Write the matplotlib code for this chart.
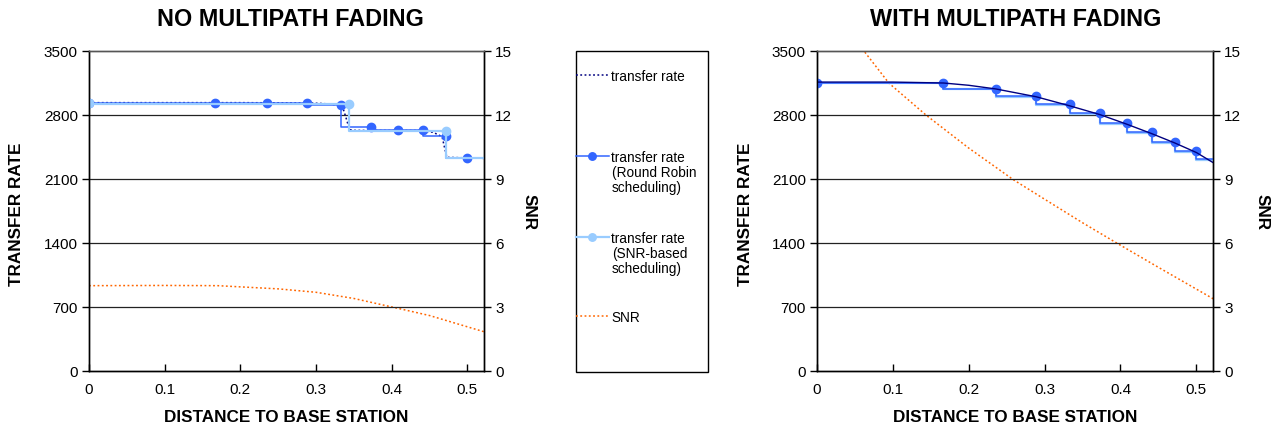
import matplotlib
matplotlib.use('Agg')
import matplotlib.pyplot as plt
from matplotlib.patches import Rectangle

plt.rcParams['font.family'] = ['Liberation Sans', 'DejaVu Sans']

# ---------------- data ----------------
x_ticks = [0, 0.1, 0.2, 0.3, 0.4, 0.5]
x_tick_labels = ['0', '0.1', '0.2', '0.3', '0.4', '0.5']
rate_ticks = [0, 700, 1400, 2100, 2800, 3500]
snr_ticks = [0, 3, 6, 9, 12, 15]

# NO MULTIPATH FADING
nf_tr_x = [0, 0.1, 0.2, 0.29, 0.31, 0.33, 0.3355, 0.34, 0.3443, 0.35, 0.40, 0.44, 0.455,
           0.4666, 0.4697, 0.4730, 0.522]
nf_tr_y = [2935, 2935, 2935, 2932, 2925, 2910, 2880, 2760, 2640, 2632, 2630, 2630, 2610,
           2563, 2450, 2337, 2326]
nf_rr_x = [0, 0.1667, 0.2357, 0.2887, 0.3333, 0.3727, 0.4082, 0.4410, 0.4714, 0.5]
nf_rr_y = [2935, 2935, 2935, 2935, 2910, 2672, 2636, 2636, 2567, 2326]
nf_snrb_x = [0, 0.3436, 0.4714, 0.522]
nf_snrb_y = [2935, 2920, 2621, 2326]
nf_snr_x = [0, 0.1, 0.17, 0.25, 0.30, 0.35, 0.408, 0.45, 0.522]
nf_snr_y = [4.0, 4.01, 4.0, 3.85, 3.69, 3.4, 2.94, 2.6, 1.84]

# WITH MULTIPATH FADING
wf_tr_x = [0, 0.1, 0.1667, 0.2, 0.2357, 0.2887, 0.3333, 0.3727, 0.4082, 0.4410, 0.4714,
           0.5, 0.524]
wf_tr_y = [3160, 3160, 3150, 3125, 3085, 3000, 2900, 2805, 2700, 2597, 2495, 2390, 2270]
wf_rr_x = [0, 0.1667, 0.2357, 0.2887, 0.3333, 0.3727, 0.4082, 0.4410, 0.4714, 0.5, 0.524]
wf_rr_y = [3150, 3150, 3084, 3011, 2920, 2818, 2712, 2610, 2508, 2406, 2320]
wf_snrb_x = [0, 0.1667, 0.2357, 0.2887, 0.3333, 0.3727, 0.4082, 0.4410, 0.4714, 0.5, 0.524]
wf_snrb_y = [3150, 3145, 3080, 2998, 2905, 2812, 2700, 2602, 2497, 2398, 2305]
wf_snr_x = [0.05, 0.0632, 0.0949, 0.1436, 0.2, 0.2587, 0.2938, 0.35, 0.395, 0.45, 0.524]
wf_snr_y = [15.6, 14.94, 13.49, 12.0, 10.45, 8.97, 8.19, 6.95, 6.0, 4.86, 3.35]

# ---------------- styles ----------------
C_TR = '#000080'
C_RR = '#3366FF'
C_SB = '#99CCFF'
C_SNR = '#FF6600'
W, H = 1279, 427
TICK_FS = 11
LAB_FS = 12.3
TITLE_FS = 16.8

fig = plt.figure(figsize=(W / 100, H / 100), dpi=100)


def px_box(x0, y0, x1, y1):
    return [x0 / W, 1 - y1 / H, (x1 - x0) / W, (y1 - y0) / H]


def setup(ax, ax2):
    ax.set_xlim(0, 0.522)
    ax.set_ylim(0, 3500)
    ax2.set_ylim(0, 15)
    ax.set_xticks(x_ticks)
    ax.set_xticklabels(x_tick_labels)
    ax.set_yticks(rate_ticks)
    ax.set_yticklabels([str(v) for v in rate_ticks])
    ax2.set_yticks(snr_ticks)
    ax2.set_yticklabels([str(v) for v in snr_ticks])
    for v in rate_ticks[1:-1]:
        ax.axhline(v, color='#222222', lw=0.9, zorder=0)
    ax.tick_params(axis='x', direction='in', length=5, labelsize=TICK_FS, pad=8, width=1)
    ax.tick_params(axis='y', direction='out', length=5, labelsize=TICK_FS, pad=3, width=1)
    ax2.tick_params(axis='y', direction='out', length=5, labelsize=TICK_FS, pad=3, width=1)
    for a in (ax, ax2):
        for s in ('left', 'bottom', 'right'):
            a.spines[s].set_color('black')
            a.spines[s].set_linewidth(1)
        a.spines['top'].set_color('#555555')
        a.spines['top'].set_linewidth(1)
    ax.set_zorder(ax2.get_zorder() + 1)
    ax.patch.set_visible(False)


# ---- left chart ----
axL = fig.add_axes(px_box(89, 52, 484, 372))
axL2 = axL.twinx()
setup(axL, axL2)
snr_line, = axL2.plot(nf_snr_x, nf_snr_y, color=C_SNR, lw=1.1, ls=(0, (1.2, 1.6)))
tr_line, = axL.plot(nf_tr_x, nf_tr_y, color=C_TR, lw=1.1, ls=(0, (1.2, 1.6)))
rr_line, = axL.plot(nf_rr_x, nf_rr_y, color=C_RR, lw=1.1, drawstyle='steps-pre',
                    marker='o', ms=6, mec=C_RR, mfc=C_RR)
sb_line, = axL.plot(nf_snrb_x, nf_snrb_y, color=C_SB, lw=1.6, drawstyle='steps-pre',
                    marker='o', ms=6, mec=C_SB, mfc=C_SB, markevery=[0, 1, 2])

# ---- right chart ----
axR = fig.add_axes(px_box(817, 52, 1213, 372))
axR2 = axR.twinx()
setup(axR, axR2)
axR2.plot(wf_snr_x, wf_snr_y, color=C_SNR, lw=1.1, ls=(0, (1.2, 1.6)))
axR.plot(wf_snrb_x, wf_snrb_y, color=C_SB, lw=1.6, drawstyle='steps-pre')
axR.plot(wf_rr_x, wf_rr_y, color=C_RR, lw=1.1, drawstyle='steps-pre',
         marker='o', ms=6, mec=C_RR, mfc=C_RR, markevery=list(range(10)))
axR.plot(wf_tr_x, wf_tr_y, color=C_TR, lw=1.0)

# ---- texts ----
bold = dict(fontweight='bold', color='black')
fig.text(290 / W, 1 - 20 / H, 'NO MULTIPATH FADING', fontsize=TITLE_FS, ha='center', va='center', **bold)
fig.text(1016 / W, 1 - 20 / H, 'WITH MULTIPATH FADING', fontsize=TITLE_FS, ha='center', va='center', **bold)
fig.text(286 / W, 1 - 418 / H, 'DISTANCE TO BASE STATION', fontsize=LAB_FS, ha='center', va='center', **bold)
fig.text(1015 / W, 1 - 418 / H, 'DISTANCE TO BASE STATION', fontsize=LAB_FS, ha='center', va='center', **bold)
fig.text(17 / W, 1 - 214 / H, 'TRANSFER RATE', fontsize=LAB_FS, rotation=90, ha='center', va='center', **bold)
fig.text(746 / W, 1 - 214 / H, 'TRANSFER RATE', fontsize=LAB_FS, rotation=90, ha='center', va='center', **bold)
fig.text(529 / W, 1 - 212 / H, 'SNR', fontsize=LAB_FS, rotation=-90, ha='center', va='center', **bold)
fig.text(1262 / W, 1 - 212 / H, 'SNR', fontsize=LAB_FS, rotation=-90, ha='center', va='center', **bold)

# ---- legend ----
fig.add_artist(Rectangle((576 / W, 1 - 373 / H), 132 / W, 321 / H, transform=fig.transFigure,
                         fill=False, edgecolor='black', lw=1))
LFS = 9.8
entries = [(tr_line, 'transfer rate', 77, []),
           (rr_line, 'transfer rate', 158, ['(Round Robin', 'scheduling)']),
           (sb_line, 'transfer rate', 239, ['(SNR-based', 'scheduling)']),
           (snr_line, 'SNR', 318, [])]
for handle, label, ypx, extra in entries:
    leg = fig.legend([handle], [label], loc='center left',
                     bbox_to_anchor=(576 / W, 1 - ypx / H), frameon=False,
                     fontsize=LFS, handlelength=2.4, handletextpad=0.2,
                     borderpad=0, borderaxespad=0, numpoints=1, markerscale=0.9)
    for i, t in enumerate(extra):
        fig.text(612 / W, 1 - (ypx + 15 * (i + 1)) / H, t, fontsize=LFS, ha='left', va='center')

fig.savefig('out.png', dpi=100)
